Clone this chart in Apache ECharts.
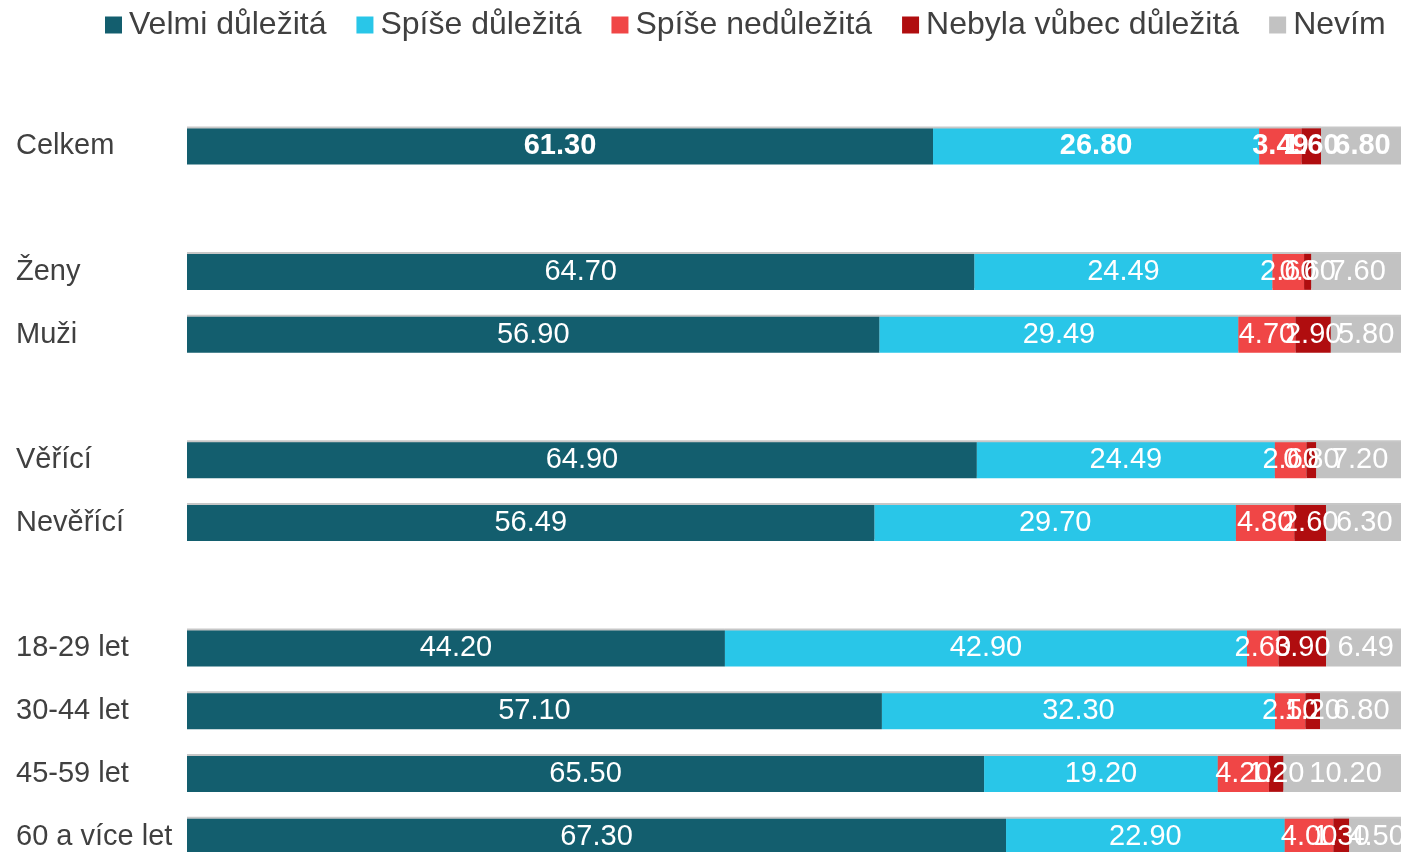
<!DOCTYPE html>
<html>
<head>
<meta charset="utf-8">
<script src="https://cdn.jsdelivr.net/npm/echarts@6/dist/echarts.min.js"></script>
<style>
html,body{margin:0;padding:0;background:#fff;overflow:hidden;width:1401px;height:852px;}
#chart{width:1410px;height:900px;}
</style>
</head>
<body>
<div id="chart"></div>
<script>
var categories = ['Celkem', '', 'Ženy', 'Muži', '', 'Věřící', 'Nevěřící', '', '18-29 let', '30-44 let', '45-59 let', '60 a více let'];
var seriesNames = ['Velmi důležitá', 'Spíše důležitá', 'Spíše nedůležitá', 'Nebyla vůbec důležitá', 'Nevím'];
var velmi  = [61.30, null, 64.70, 56.90, null, 64.90, 56.49, null, 44.20, 57.10, 65.50, 67.30];
var spise  = [26.80, null, 24.49, 29.49, null, 24.49, 29.70, null, 42.90, 32.30, 19.20, 22.90];
var nedul  = [3.49, null, 2.60, 4.70, null, 2.60, 4.80, null, 2.60, 2.50, 4.20, 4.00];
var nebyla = [1.60, null, 0.60, 2.90, null, 0.80, 2.60, null, 3.90, 1.20, 1.20, 1.30];
var nevim  = [6.80, null, 7.60, 5.80, null, 7.20, 6.30, null, 6.49, 6.80, 10.20, 4.50];

var colors = ['#135e6e', '#29c6e8', '#f04646', '#b00d0f', '#c2c2c2'];
var allData = [velmi, spise, nedul, nebyla, nevim];

function buildData(arr) {
  return arr.map(function (v, i) {
    if (v === null) return '-';
    if (i === 0) return { value: v, label: { fontWeight: 'bold' } };
    return v;
  });
}

var chart = echarts.init(document.getElementById('chart'));
chart.setOption({
  animation: false,
  color: colors,
  legend: {
    top: 4,
    left: 100,
    itemWidth: 17,
    itemHeight: 17,
    itemGap: 30,
    icon: 'rect',
    textStyle: { fontFamily: 'Liberation Sans, Arial, sans-serif', fontSize: 32, color: '#404040', padding: [0, 0, 0, 2] },
    data: seriesNames
  },
  grid: { left: 187, top: 115, width: 1217, height: 753, containLabel: false },
  xAxis: {
    type: 'value', min: 0, max: 100, show: false
  },
  yAxis: {
    type: 'category',
    inverse: true,
    data: categories,
    axisLine: { show: false },
    axisTick: { show: false },
    axisLabel: {
      align: 'left',
      margin: 171,
      fontFamily: 'Liberation Sans, Arial, sans-serif',
      fontSize: 29,
      color: '#404040'
    }
  },
  series: allData.map(function (arr, k) {
    return {
      name: seriesNames[k],
      type: 'bar',
      stack: 'total',
      barWidth: 36,
      clip: false,
      data: buildData(arr),
      itemStyle: {
        color: colors[k],
        shadowColor: 'rgba(0,0,0,0.22)',
        shadowBlur: 0,
        shadowOffsetY: -2
      },
      label: {
        show: true,
        position: 'inside',
        color: '#ffffff',
        fontFamily: 'Liberation Sans, Arial, sans-serif',
        fontSize: 29,
        formatter: function (p) { return Number(p.value).toFixed(2); }
      }
    };
  })
});
</script>
</body>
</html>
